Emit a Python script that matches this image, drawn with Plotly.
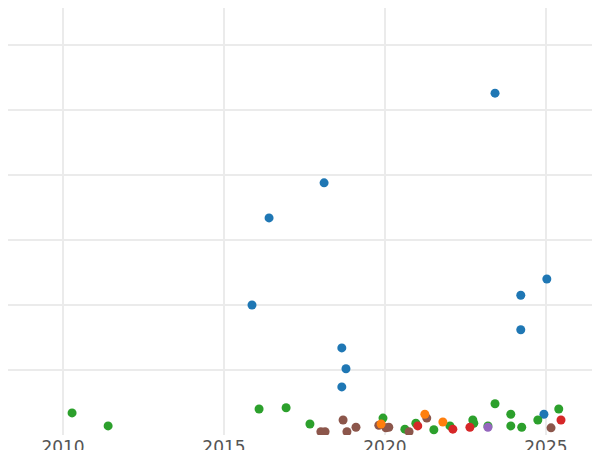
import plotly.graph_objects as go

blue_x = [2023.42, 2018.11, 2016.40, 2025.03, 2024.22, 2024.22, 2015.87, 2018.66, 2018.79, 2018.66, 2024.94]
blue_y = [5.26, 3.88, 3.34, 2.40, 2.15, 1.62, 2.00, 1.34, 1.02, 0.74, 0.32]
green_x = [2010.28, 2011.40, 2016.09, 2016.93, 2017.67, 2019.94, 2020.62, 2020.96, 2021.52, 2022.02, 2022.73, 2022.76, 2023.42, 2023.91, 2023.91, 2024.25, 2024.75, 2025.40, 2023.20]
green_y = [0.34, 0.14, 0.40, 0.42, 0.17, 0.26, 0.09, 0.18, 0.08, 0.14, 0.23, 0.18, 0.48, 0.32, 0.14, 0.12, 0.23, 0.40, 0.14]
brown_x = [2018.01, 2018.14, 2018.70, 2018.82, 2019.10, 2019.81, 2020.03, 2020.12, 2020.75, 2021.30, 2025.16]
brown_y = [0.05, 0.05, 0.23, 0.05, 0.12, 0.15, 0.11, 0.12, 0.05, 0.26, 0.11]
red_x = [2021.02, 2022.11, 2022.64, 2025.47]
red_y = [0.14, 0.09, 0.12, 0.23]
orange_x = [2021.24, 2021.80, 2019.88]
orange_y = [0.32, 0.20, 0.17]
purple_x = [2023.20]
purple_y = [0.12]

fig = go.Figure()
for xs, ys, c in [(blue_x, blue_y, "#1f77b4"), (green_x, green_y, "#2ca02c"),
                  (brown_x, brown_y, "#8c564b"), (orange_x, orange_y, "#ff7f0e"),
                  (red_x, red_y, "#d62728"), (purple_x, purple_y, "#9467bd")]:
    fig.add_trace(go.Scatter(x=xs, y=ys, mode="markers",
                             marker=dict(color=c, size=9), showlegend=False))

fig.update_layout(
    width=600, height=450,
    margin=dict(l=0, r=0, t=0, b=23, pad=0, autoexpand=False),
    plot_bgcolor="white", paper_bgcolor="white",
    xaxis=dict(range=[2008.29, 2026.93], tickvals=[2010, 2015, 2020, 2025],
               showgrid=True, gridcolor="#ebebeb", gridwidth=2, zeroline=False,
               tickfont=dict(family="DejaVu Sans", size=17, color="#555"),
               ticks="", ticklabelstandoff=0),
    yaxis=dict(range=[0, 6.57], dtick=1, showgrid=True, gridcolor="#ebebeb",
               gridwidth=2, zeroline=False, showticklabels=False),
)
fig.write_html("out.html")
